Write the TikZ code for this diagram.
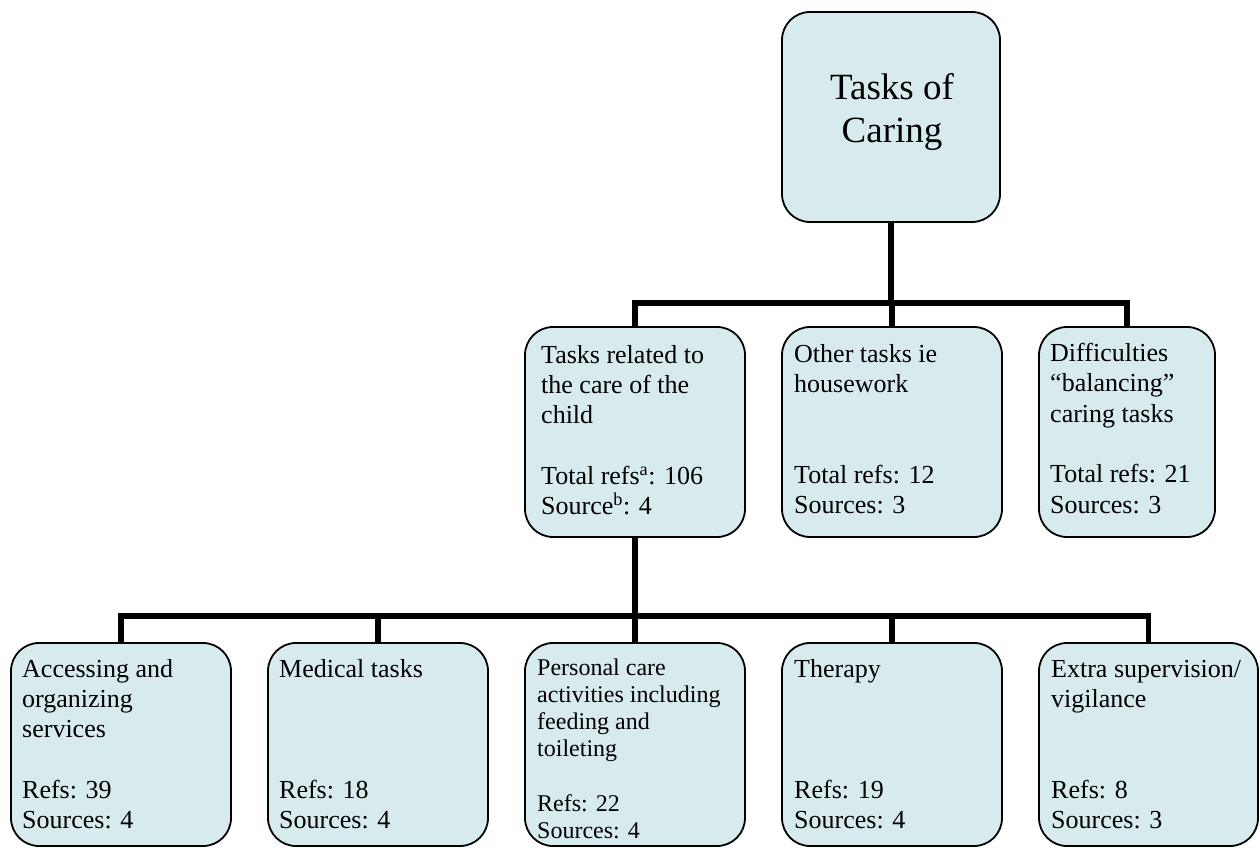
\documentclass[tikz,border=0pt]{standalone}
\usepackage{fontspec}
\setmainfont{Liberation Serif}
\definecolor{boxfill}{RGB}{215,235,239}
\newcommand\linesL[1]{\vtop{\halign{##\hfil\cr#1\crcr}}}
\newcommand\linesC[1]{\vtop{\halign{\hfil##\hfil\cr#1\crcr}}}
\begin{document}
\begin{tikzpicture}[x=1pt,y=-1pt,
  cbox/.style={draw=black, line width=1.8pt, fill=boxfill, rounded corners=28pt, inner sep=0pt, minimum width=220pt},
  conn/.style={draw=black, line width=5.5pt, line join=miter},
  txt/.style={inner sep=0pt, font=\fontsize{26}{30.3}\selectfont},
  smalltxt/.style={inner sep=0pt, font=\fontsize{24}{27.3}\selectfont},
  bigtxt/.style={inner sep=0pt, font=\fontsize{37}{43}\selectfont}]
\useasboundingbox (0,0) rectangle (1260,848);

% boxes
\path (891,117) node[cbox, minimum width=218pt, minimum height=210pt] (top) {};
\path (635,432) node[cbox, minimum height=210pt] (m1) {};
\path (892,432) node[cbox, minimum height=210pt] (m2) {};
\path (1127,432) node[cbox, minimum width=176pt, minimum height=210pt] (m3) {};
\path (121,744.5) node[cbox, minimum height=203pt] (b1) {};
\path (378,744.5) node[cbox, minimum height=203pt] (b2) {};
\path (635,744.5) node[cbox, minimum height=203pt] (b3) {};
\path (892,744.5) node[cbox, minimum height=203pt] (b4) {};
\path (1148.5,744.5) node[cbox, minimum width=219pt, minimum height=203pt] (b5) {};

% junction points
\coordinate (j1) at (top.south |- 0,303);
\coordinate (j2) at (m1.south |- 0,616);

% connectors
\draw[conn] (top.south) -- (j1);
\draw[conn] (m1.north) |- (j1);
\draw[conn] (m3.north) |- (j1);
\draw[conn] (m2.north) -- (m2.north |- j1);
\draw[conn] (m1.south) -- (j2);
\draw[conn] (b1.north) |- (j2);
\draw[conn] (b5.north) |- (j2);
\draw[conn] (b2.north) -- (b2.north |- j2);
\draw[conn] (b3.north) -- (b3.north |- j2);
\draw[conn] (b4.north) -- (b4.north |- j2);

% texts
\node[bigtxt, anchor=base] (ttop) at (892,100) {\linesC{Tasks of\cr Caring}};
\node[txt, anchor=base west] (tm1) at (541,363) {\linesL{Tasks related to\cr the care of the\cr child\cr\cr Total refs\textsuperscript{a}: 106\cr Source\textsuperscript{b}: 4}};
\node[txt, anchor=base west] (tm2) at (794,362) {\linesL{Other tasks ie\cr housework\cr\cr\cr Total refs: 12\cr Sources: 3}};
\node[txt, anchor=base west] (tm3) at (1050,361.5) {\linesL{Difficulties\cr “balancing”\cr caring tasks\cr\cr Total refs: 21\cr Sources: 3}};
\node[txt, anchor=base west] (tb1) at (22,677) {\linesL{Accessing and\cr organizing\cr services\cr\cr Refs: 39\cr Sources: 4}};
\node[txt, anchor=base west] (tb2) at (279,677) {\linesL{Medical tasks\cr\cr\cr\cr Refs: 18\cr Sources: 4}};
\node[smalltxt, anchor=base west] (tb3) at (537,675) {\linesL{Personal care\cr activities including\cr feeding and\cr toileting\cr\cr Refs: 22\cr Sources: 4}};
\node[txt, anchor=base west] (tb4) at (794,677) {\linesL{Therapy\cr\cr\cr\cr Refs: 19\cr Sources: 4}};
\node[txt, anchor=base west] (tb5) at (1051,677) {\linesL{Extra supervision/\cr vigilance\cr\cr\cr Refs: 8\cr Sources: 3}};
\end{tikzpicture}
\end{document}
